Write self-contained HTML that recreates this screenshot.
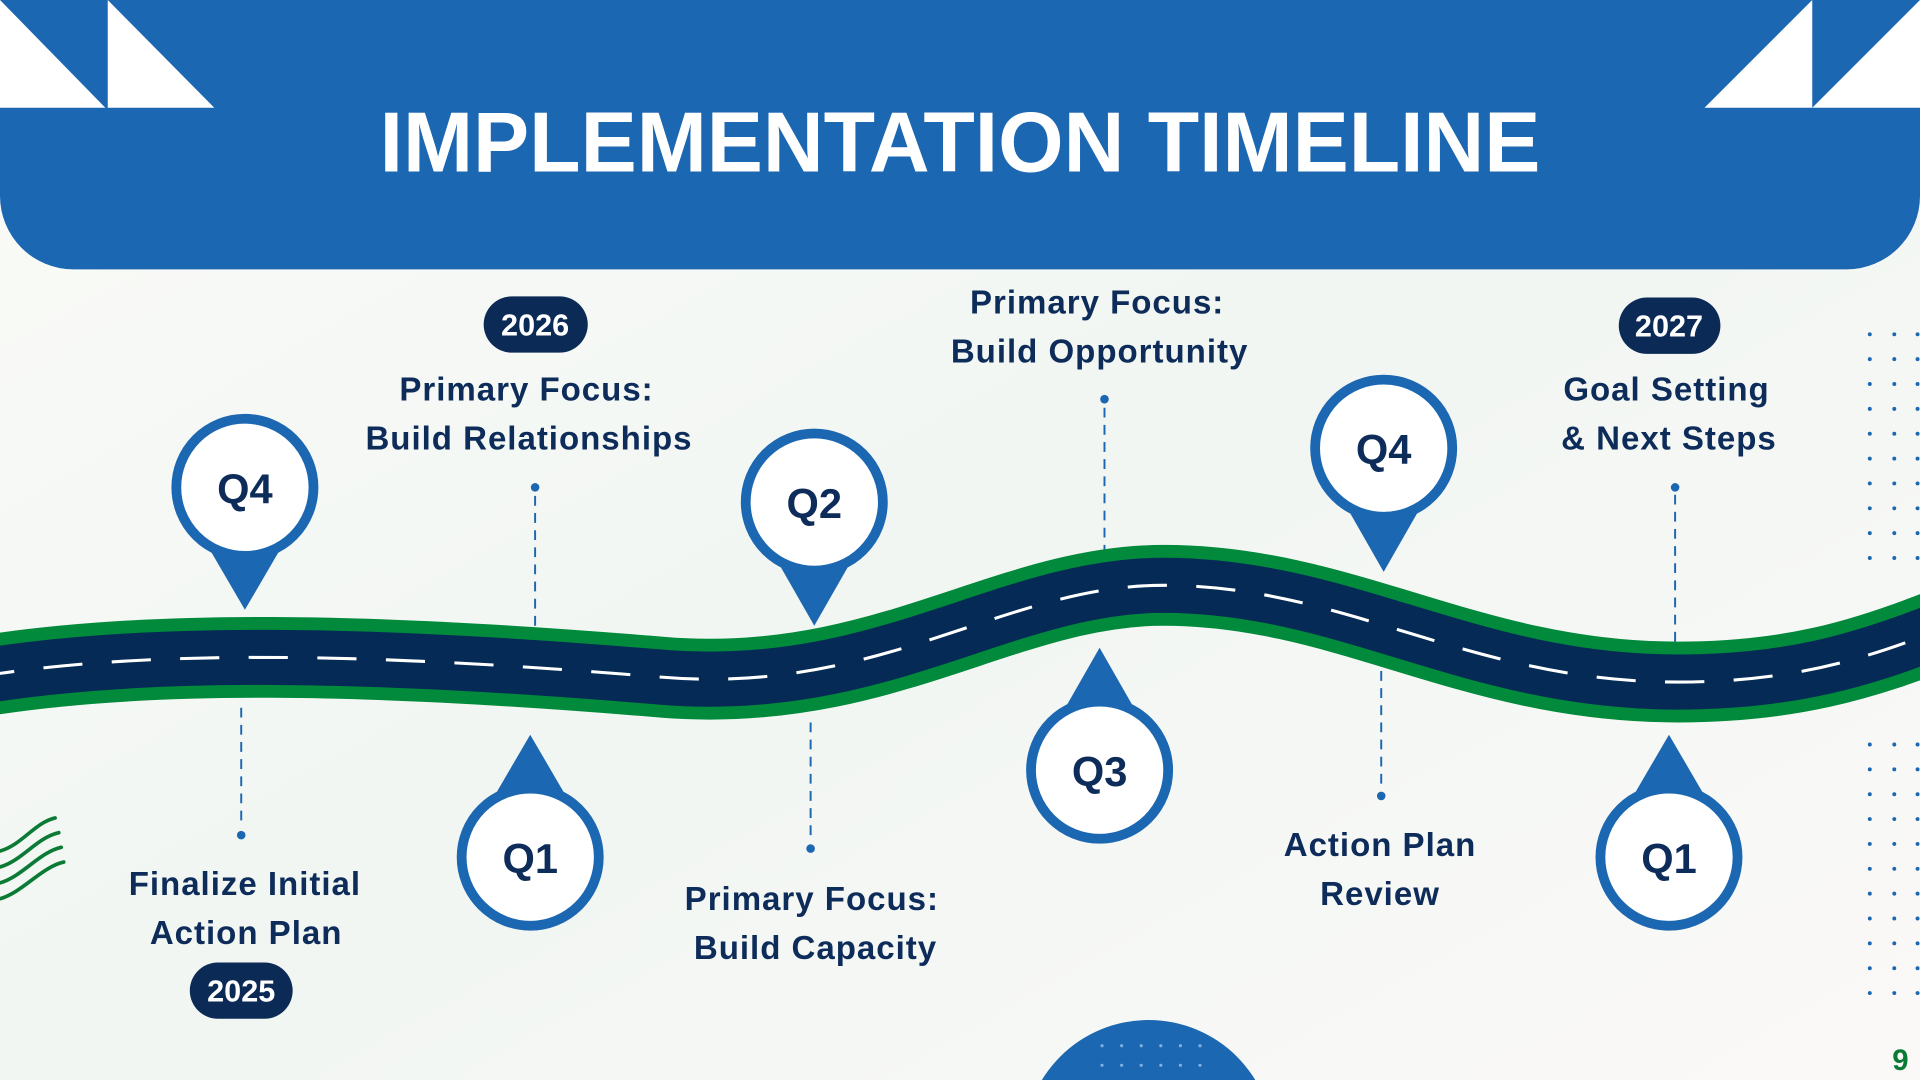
<!DOCTYPE html>
<html><head><meta charset="utf-8"><style>
html,body{margin:0;padding:0;width:1920px;height:1080px;overflow:hidden;background:#f6f8f5}
svg{display:block}
text{font-family:"Liberation Sans",sans-serif;font-weight:bold}
</style></head><body>
<svg width="1920" height="1080" viewBox="0 0 1568 882" preserveAspectRatio="none">
<defs>
<linearGradient id="bg" x1="0" y1="0" x2="1" y2="1">
<stop offset="0" stop-color="#fbfbf8"/><stop offset="0.5" stop-color="#f1f6f2"/><stop offset="1" stop-color="#fbf9f8"/>
</linearGradient>
</defs>
<rect width="1568" height="882" fill="url(#bg)"/>
<path d="M0 0 H1568 V160 A60 60 0 0 1 1508 220 H60 A60 60 0 0 1 0 160 Z" fill="#1c67b1"/>
<polygon points="0,0 86,88 0,88" fill="#fff"/>
<polygon points="88,0 88,88 175,88" fill="#fff"/>
<polygon points="1480,0 1480,88 1392,88" fill="#fff"/>
<polygon points="1568,0 1568,88 1480,88" fill="#fff"/>
<text x="784" y="140" font-size="70" fill="#fff" text-anchor="middle" textLength="948" lengthAdjust="spacingAndGlyphs">IMPLEMENTATION TIMELINE</text>

<g stroke="#1c67b1" stroke-width="1.6" stroke-dasharray="8 6" fill="none">
<line x1="437" y1="405" x2="437" y2="525"/>
<line x1="902" y1="333" x2="902" y2="455"/>
<line x1="1368" y1="404" x2="1368" y2="525"/>
<line x1="197" y1="578" x2="197" y2="676"/>
<line x1="662" y1="590" x2="662" y2="687"/>
<line x1="1128" y1="548" x2="1128" y2="644"/>
</g>
<g fill="#1c67b1">
<circle cx="437" cy="398" r="3.5"/><circle cx="902" cy="326" r="3.5"/><circle cx="1368" cy="398" r="3.5"/>
<circle cx="197" cy="682" r="3.5"/><circle cx="662" cy="693" r="3.5"/><circle cx="1128" cy="650" r="3.5"/>
</g>

<g fill="none">
<path d="M-20 553 C120 530 300 533 540 553 C720 568 820 478 950 478 C1100 478 1200 557 1370 557 C1460 557 1520 540 1590 512" stroke="#018a3b" stroke-width="66"/>
<path d="M-20 553 C120 530 300 533 540 553 C720 568 820 478 950 478 C1100 478 1200 557 1370 557 C1460 557 1520 540 1590 512" stroke="#042a55" stroke-width="45"/>
<path d="M-20 553 C120 530 300 533 540 553 C720 568 820 478 950 478 C1100 478 1200 557 1370 557 C1460 557 1520 540 1590 512" stroke="#fff" stroke-width="2.5" stroke-dasharray="32 24"/>
</g>

<g stroke="#0a7a35" stroke-width="3" fill="none" stroke-linecap="round">
<path d="M0 695 C18 690 28 672 45 668"/>
<path d="M0 708 C18 703 30 684 48 680"/>
<path d="M0 721 C18 716 32 696 50 692"/>
<path d="M0 734 C18 729 34 708 52 704"/>
</g>

<g fill="#1c67b1">
<polygon points="172,450 228,450 200,498"/>
<polygon points="637,462 693,462 665,511"/>
<polygon points="1102,418 1158,418 1130,467"/>
<polygon points="405,648 461,648 433,600"/>
<polygon points="870,578 926,578 898,529"/>
<polygon points="1335,648 1391,648 1363,600"/>
</g>
<g fill="#fff" stroke="#1c67b1" stroke-width="8">
<circle cx="200" cy="398" r="56"/>
<circle cx="665" cy="410" r="56"/>
<circle cx="1130" cy="366" r="56"/>
<circle cx="433" cy="700" r="56"/>
<circle cx="898" cy="629" r="56"/>
<circle cx="1363" cy="700" r="56"/>
</g>
<g fill="#0d2c5a" font-size="34" text-anchor="middle">
<text x="200" y="411">Q4</text>
<text x="665" y="423">Q2</text>
<text x="1130" y="379">Q4</text>
<text x="433" y="713">Q1</text>
<text x="898" y="642">Q3</text>
<text x="1363" y="713">Q1</text>
</g>

<g fill="#0b2a55">
<rect x="395" y="242" width="85" height="46" rx="23"/>
<rect x="1322" y="243" width="83" height="46" rx="23"/>
<rect x="155" y="786" width="84" height="46" rx="23"/>
</g>
<g fill="#fff" font-size="25" text-anchor="middle">
<text x="437" y="274">2026</text>
<text x="1363" y="275">2027</text>
<text x="197" y="818">2025</text>
</g>

<g fill="#0d2c5a" font-size="27" text-anchor="middle" letter-spacing="0.8">
<text x="430" y="327">Primary Focus:</text>
<text x="432" y="367">Build Relationships</text>
<text x="896" y="256">Primary Focus:</text>
<text x="898" y="296">Build Opportunity</text>
<text x="1361" y="327">Goal Setting</text>
<text x="1363" y="367">&amp; Next Steps</text>
<text x="200" y="731">Finalize Initial</text>
<text x="201" y="771">Action Plan</text>
<text x="663" y="743">Primary Focus:</text>
<text x="666" y="783">Build Capacity</text>
<text x="1127" y="699">Action Plan</text>
<text x="1127" y="739">Review</text>
</g>

<g fill="#1c67b1" id="grid"></g>

<circle cx="938" cy="935" r="102" fill="#1c67b1"/>
<g fill="#7fb0e0">
<circle cx="900" cy="854" r="1.3"/><circle cx="916" cy="854" r="1.3"/><circle cx="932" cy="854" r="1.3"/><circle cx="948" cy="854" r="1.3"/><circle cx="964" cy="854" r="1.3"/><circle cx="980" cy="854" r="1.3"/>
<circle cx="900" cy="870" r="1.3"/><circle cx="916" cy="870" r="1.3"/><circle cx="932" cy="870" r="1.3"/><circle cx="948" cy="870" r="1.3"/><circle cx="964" cy="870" r="1.3"/><circle cx="980" cy="870" r="1.3"/>
</g>
<text x="1552" y="874" font-size="24" fill="#0a7a35" text-anchor="middle">9</text>
</svg>
<script>
(function(){
var g=document.getElementById('grid'),s='';
var ys=[];for(var y=273;y<=456;y+=20.3)ys.push(y);for(var y=608;y<=812;y+=20.3)ys.push(y);
ys.forEach(function(y){[1527,1547,1566].forEach(function(x){s+='<circle cx="'+x+'" cy="'+y+'" r="1.6"/>';});});
g.innerHTML=s;
})();
</script>
</body></html>
